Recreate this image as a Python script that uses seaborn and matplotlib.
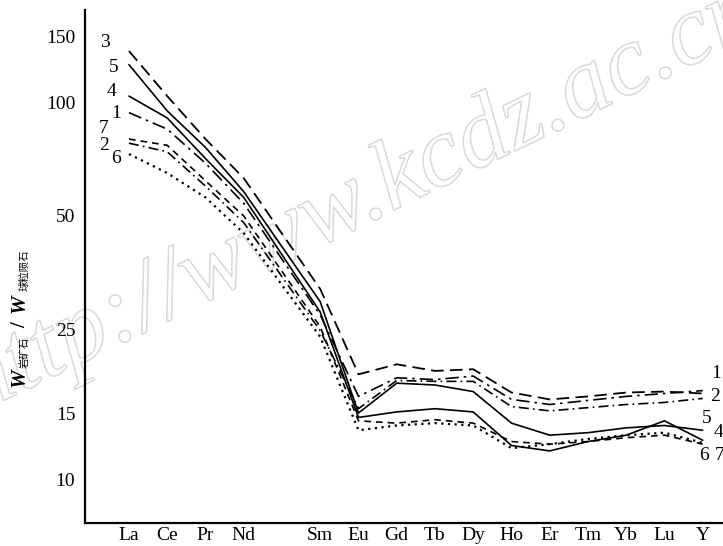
import matplotlib
matplotlib.use("Agg")
import matplotlib.pyplot as plt
import matplotlib.patheffects as pe
import seaborn as sns
import numpy as np
import pandas as pd

# ---- data ----
elements = ["La", "Ce", "Pr", "Nd", "Sm", "Eu", "Gd", "Tb", "Dy", "Ho", "Er", "Tm", "Yb", "Lu", "Y"]
elem_pos = [0, 1, 2, 3, 5, 6, 7, 8, 9, 10, 11, 12, 13, 14, 15]  # Pm gap

s3 = [137, 104, 80, 63, 32.0, 19.0, 20.2, 19.4, 19.6, 17.0, 16.3, 16.6, 17.0, 17.1, 16.9]
s5 = [126, 95, 76, 58, 29.6, 15.0, 18.0, 17.8, 17.1, 14.1, 13.1, 13.3, 13.7, 13.9, 13.5]
s4 = [104, 91, 71, 56, 27.8, 14.6, 15.1, 15.4, 15.1, 12.3, 11.9, 12.6, 13.1, 14.3, 12.7]
s1 = [94, 85, 69, 54, 27.3, 16.6, 18.6, 18.4, 18.8, 16.3, 15.8, 16.2, 16.6, 16.9, 17.2]
s7 = [80, 77, 62, 50, 25.4, 14.3, 14.1, 14.4, 14.1, 12.6, 12.4, 12.6, 12.9, 13.1, 12.4]
s2 = [78, 74, 60, 48, 24.8, 15.4, 18.3, 18.2, 18.2, 15.6, 15.2, 15.5, 15.8, 16.0, 16.4]
s6 = [73, 65, 56, 45, 23.9, 13.5, 13.9, 14.1, 13.9, 12.1, 12.4, 12.8, 13.1, 13.3, 12.5]

series_names = ["3", "5", "4", "1", "7", "2", "6"]
series_values = [s3, s5, s4, s1, s7, s2, s6]

y_ticks = [10, 15, 25, 50, 100, 150]

left_label_pos = {"3": (-0.63, 144), "5": (-0.39, 124), "4": (-0.47, 107), "1": (-0.34, 93.6),
                  "7": (-0.65, 85.4), "2": (-0.65, 77.1), "6": (-0.34, 71.2)}
right_label_pos = {"1": (15.35, 19.1), "2": (15.32, 16.6), "5": (15.11, 14.5), "4": (15.4, 13.3),
                   "6": (15.03, 11.6), "7": (15.45, 11.6)}

styles = {
    "3": dict(linestyle=(0, (7, 3.5)), linewidth=1.3),
    "5": dict(linestyle="-", linewidth=1.2),
    "4": dict(linestyle="-", linewidth=1.2),
    "1": dict(linestyle=(0, (8, 3, 1.5, 3)), linewidth=1.2),
    "7": dict(linestyle=(0, (4, 3)), linewidth=1.2),
    "2": dict(linestyle=(0, (6, 2.5, 1, 2.5)), linewidth=1.2),
    "6": dict(linestyle=(0, (1, 2)), linewidth=1.6),
}

sns.set_theme(style="white")
plt.rcParams["font.family"] = ["Liberation Serif", "DejaVu Serif"]

W, H = 723, 546
fig = plt.figure(figsize=(W / 100, H / 100), dpi=100)
ax = fig.add_axes([85 / W, (546 - 523) / H, (723 - 85) / W, (523 - 10) / H])

# faint outlined watermark, behind everything in the axes
ax.text(360 / W, 1 - 200 / H, "http://www.kcdz.ac.cn", fontsize=72, style="italic",
        rotation=26, ha="center", va="center", color="white", zorder=0.1,
        family=["Liberation Serif"], transform=fig.transFigure, clip_on=False,
        path_effects=[pe.Stroke(linewidth=1.1, foreground="#d9d9d9")])

for name, vals in zip(series_names, series_values):
    sns.lineplot(x=elem_pos, y=vals, ax=ax, color="black", estimator=None,
                 sort=False, legend=False, zorder=2, **styles[name])

ax.set_yscale("log")
ax.set_ylim(7.66, 176)
ax.set_xlim(-1.15, 15.53)
ax.set_yticks(y_ticks)
ax.set_yticklabels([str(t) for t in y_ticks])
ax.yaxis.set_minor_locator(matplotlib.ticker.NullLocator())
ax.set_xticks(elem_pos)
ax.set_xticklabels(elements)
ax.set_facecolor("none")

for side in ["top", "right"]:
    ax.spines[side].set_visible(False)
for side in ["left", "bottom"]:
    ax.spines[side].set_color("black")
    ax.spines[side].set_linewidth(1.6)

ax.tick_params(axis="y", direction="in", length=7, width=1.4, pad=7, labelsize=14, colors="black")
ax.tick_params(axis="x", direction="in", length=5, width=1.2, pad=3, labelsize=14, colors="black")
ax.set_xlabel("")
ax.set_ylabel("")

for name, (x, y) in left_label_pos.items():
    ax.text(x, y, name, fontsize=14, ha="center", va="center", color="black", clip_on=False)
for name, (x, y) in right_label_pos.items():
    ax.text(x, y, name, fontsize=14, ha="center", va="center", color="black", clip_on=False)

# y label pieces (rotated)
def ftext(px, py, s, **kw):
    fig.text(px / W, 1 - py / H, s, rotation=90, ha="center", va="center", color="black", **kw)

ftext(20, 378, "W", fontsize=15, fontweight="bold", style="italic", family=["Liberation Serif"])
ftext(25, 352, "岩矿石", fontsize=7.5, family=["Noto Sans CJK SC"])
ftext(20, 325, "/", fontsize=15, fontweight="bold", family=["Liberation Serif"])
ftext(20, 304, "W", fontsize=15, fontweight="bold", style="italic", family=["Liberation Serif"])
ftext(25, 270, "球粒陨石", fontsize=7.5, family=["Noto Sans CJK SC"])

fig.savefig("out.png", dpi=100, facecolor="white")
